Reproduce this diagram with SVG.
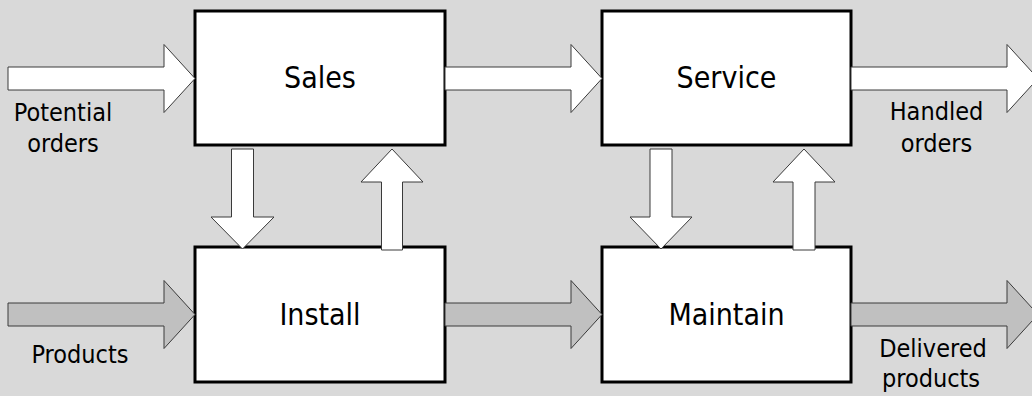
<svg xmlns="http://www.w3.org/2000/svg" width="1032" height="396" viewBox="0 0 1032 396">
  <style>
    .box { fill: #ffffff; stroke: #000000; stroke-width: 3; }
    .flow { stroke: #3a3a3a; stroke-width: 1; stroke-linejoin: miter; }
    .info { fill: #ffffff; }
    .goods { fill: #c0c0c0; }
    text { font-family: "DejaVu Sans Condensed", "DejaVu Sans", sans-serif; font-stretch: condensed; fill: #000000; text-anchor: middle; }
    .title { font-size: 30px; }
    .side { font-size: 25px; }
  </style>
  <rect width="1032" height="396" fill="#d9d9d9"/>

  <!-- process boxes -->
  <g id="sales">
    <rect class="box" x="195" y="11" width="250" height="134"/>
    <text class="title" x="320" y="88">Sales</text>
  </g>
  <g id="service">
    <rect class="box" x="602" y="11" width="249" height="134"/>
    <text class="title" x="726.5" y="88">Service</text>
  </g>
  <g id="install">
    <rect class="box" x="195" y="247" width="250" height="135"/>
    <text class="title" x="320" y="325">Install</text>
  </g>
  <g id="maintain">
    <rect class="box" x="602" y="247" width="249" height="135"/>
    <text class="title" x="726.5" y="325">Maintain</text>
  </g>

  <!-- block arrows: white = orders, grey = products -->
  <g id="connectors">
    <polygon class="flow info" points="8,67 164,67 164,44.5 195,78.5 164,112.5 164,90 8,90"/>
    <polygon class="flow info" points="445,67 571,67 571,44.5 602,78.5 571,112.5 571,90 445,90"/>
    <polygon class="flow info" points="851,67 1007,67 1007,44.5 1038,78.5 1007,112.5 1007,90 851,90"/>

    <polygon class="flow goods" points="8,303 164,303 164,280.5 195,314.5 164,348.5 164,326 8,326"/>
    <polygon class="flow goods" points="445,303 571,303 571,280.5 602,314.5 571,348.5 571,326 445,326"/>
    <polygon class="flow goods" points="851,303 1007,303 1007,280.5 1038,314.5 1007,348.5 1007,326 851,326"/>

    <polygon class="flow info" points="231.5,149 253.5,149 253.5,217 274,217 242.5,249 211,217 231.5,217"/>
    <polygon class="flow info" points="381.5,250 402.5,250 402.5,182 423,182 392,149 361,182 381.5,182"/>
    <polygon class="flow info" points="650,149 672,149 672,217 692,217 661,249 630,217 650,217"/>
    <polygon class="flow info" points="793,250 815,250 815,182 835,182 804,149 773,182 793,182"/>
  </g>

  <!-- flow labels -->
  <g id="labels">
    <text class="side" x="63" y="121">Potential</text>
    <text class="side" x="63" y="152">orders</text>
    <text class="side" x="80" y="363">Products</text>
    <text class="side" x="936.5" y="120">Handled</text>
    <text class="side" x="936.5" y="152">orders</text>
    <text class="side" x="933" y="357">Delivered</text>
    <text class="side" x="931" y="387">products</text>
  </g>
</svg>
